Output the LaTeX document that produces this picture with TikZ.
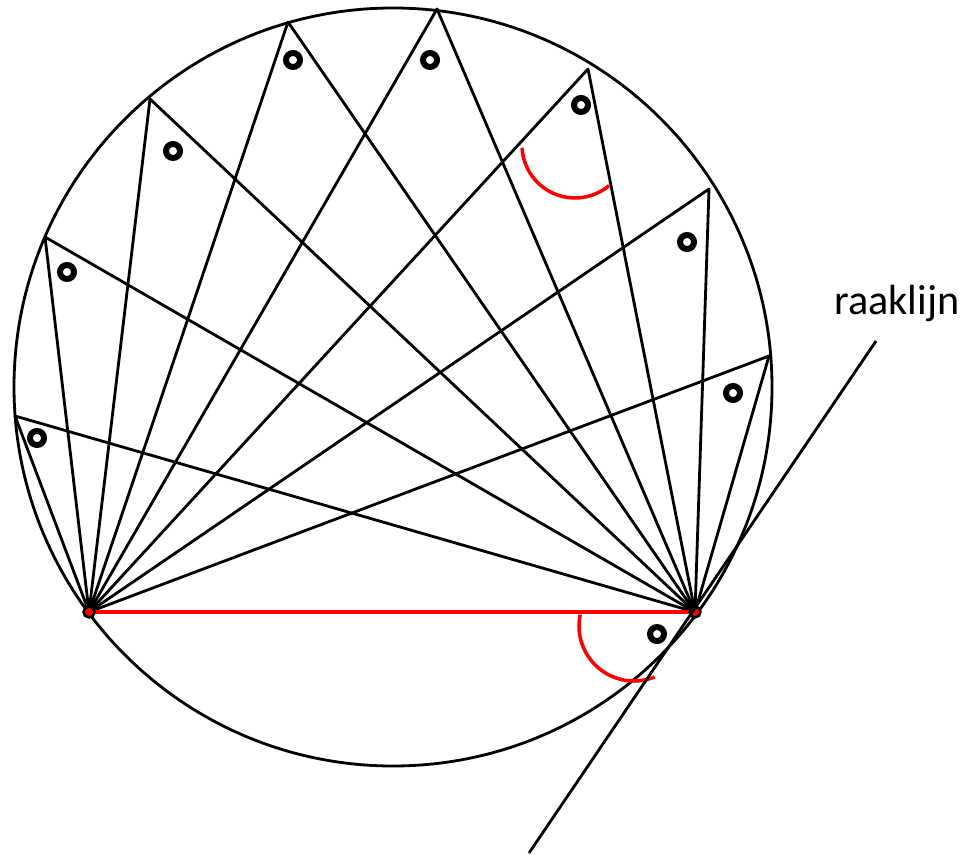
\documentclass[tikz,border=0pt]{standalone}
\usepackage{fontspec}
\setmainfont{Carlito}
\usetikzlibrary{positioning}

\begin{document}
\begin{tikzpicture}[
    x=0.01cm, y=-0.01cm,
    chord/.style={line width=0.8pt, line join=round},
    base/.style={red, line width=1pt},
    angmark/.style={red, line width=1pt},
    ring/.style={draw, circle, inner sep=0pt, minimum size=0.14cm, line width=1.7pt},
    dot/.style={draw, circle, fill=red, inner sep=0pt, minimum size=0.11cm, line width=0.7pt},
    lbl/.style={font=\fontsize{12}{14}\selectfont},
  ]
  \useasboundingbox (0,0) rectangle (967,855);

  % circle and the chord end points
  \coordinate (O) at (393,387);
  \coordinate (A) at (89,612);
  \coordinate (B) at (695,612);
  \draw[chord] (O) circle[radius=379];

  % points on the upper arc
  \coordinate (P1) at (15,416);
  \coordinate (P2) at (45,237);
  \coordinate (P3) at (150,99);
  \coordinate (P4) at (288,22);
  \coordinate (P5) at (437,9);
  \coordinate (P6) at (588,69);
  \coordinate (P7) at (709,189);
  \coordinate (P8) at (769,356);

  \foreach \p in {1,...,8}
    \draw[chord] (A) -- (P\p) -- (B);

  \draw[base] (A) -- (B);
  \node[dot] (dA) at (A) {};
  \node[dot] (dB) at (B) {};

  % angle marks
  \coordinate (c6) at (575,145);
  \coordinate (cB) at (634,626);
  \draw[angmark] (c6) ++(177:53) arc[start angle=177, end angle=50, radius=53];
  \draw[angmark] (cB) ++(192:55) arc[start angle=192, end angle=68, radius=55];

  \foreach \pos [count=\i] in {(37,438),(67,272),(173,151),(293,60),(430,60),(581,105),(687,242),(733,393),(657,634)}
    \node[ring] (m\i) at \pos {};

  % tangent line
  \coordinate (T1) at (876,341);
  \coordinate (T2) at (529,853);
  \draw[chord] (T2) -- (T1);
  \node[lbl, anchor=base] (raak) at (897,315) {raaklijn};
\end{tikzpicture}
\end{document}
